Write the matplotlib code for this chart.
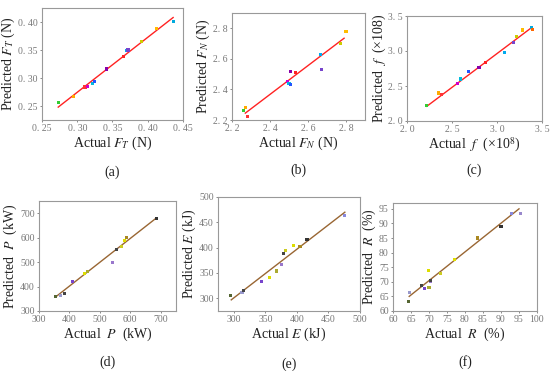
import matplotlib.pyplot as plt

plt.rcParams['font.family'] = 'Liberation Serif'
plt.rcParams['mathtext.fontset'] = 'stix'

# (a) tangential force
ft_act = [0.273, 0.295, 0.311, 0.315, 0.322, 0.325, 0.341, 0.366, 0.370, 0.372, 0.391, 0.412, 0.436]
ft_pred = [0.256, 0.267, 0.284, 0.285, 0.290, 0.294, 0.316, 0.339, 0.349, 0.350, 0.365, 0.389, 0.401]
ft_line = [(0.273, 0.436), (0.248, 0.408)]

# (b) normal force
fn_act = [2.26, 2.27, 2.28, 2.49, 2.50, 2.51, 2.51, 2.535, 2.665, 2.67, 2.77, 2.80]
fn_pred = [2.26, 2.28, 2.22, 2.45, 2.44, 2.43, 2.52, 2.51, 2.63, 2.53, 2.70, 2.78]
fn_line = [(2.27, 2.79), (2.245, 2.735)]

# (c) f
f_act = [2.22, 2.35, 2.38, 2.56, 2.59, 2.68, 2.80, 2.87, 3.08, 3.18, 3.22, 3.28, 3.38, 3.39]
f_pred = [2.22, 2.40, 2.38, 2.53, 2.60, 2.71, 2.76, 2.84, 2.98, 3.12, 3.21, 3.30, 3.33, 3.31]
f_line = [(2.22, 3.38), (2.21, 3.33)]

# (d) power
p_act = [355, 370, 383, 410, 450, 460, 540, 555, 570, 580, 588, 685]
p_pred = [360, 363, 373, 422, 455, 462, 498, 552, 565, 590, 600, 680]
p_line = [(355, 685), (358, 680)]

# (e) energy
e_act = [295, 313, 315, 344, 356, 368, 376, 379, 382, 395, 405, 416, 476]
e_pred = [306, 311, 315, 334, 342, 354, 366, 389, 395, 405, 403, 417, 464]
e_line = [(296, 476), (297, 470)]

# (f) R
r_act = [64.2, 64.7, 68.0, 68.8, 69.8, 70.0, 70.3, 70.5, 73.2, 77.0, 83.5, 90.0, 92.8, 95.5]
r_pred = [63.3, 66.3, 68.8, 67.7, 74.0, 67.9, 70.0, 70.4, 73.0, 77.5, 85.0, 89.0, 93.5, 93.5]
r_line = [(64.5, 95), (65, 95)]

top_colors = ['#33cc33', '#ffaa00', '#ff3333', '#cc00cc', '#00bbdd', '#2255ff', '#8800aa',
              '#ff2222', '#00aaee', '#7744cc', '#cccc00', '#ffbb00', '#00aadd', '#ff6600']
bot_colors = ['#556633', '#9999cc', '#444444', '#7744cc', '#dddd00', '#aaaa33', '#9977cc',
              '#444444', '#cccc22', '#dddd00', '#aa8822', '#333333', '#8888dd', '#9988cc']

fig = plt.figure(figsize=(5.5, 3.71), dpi=100)
W, H = 550, 371


def make_ax(l, t, r, b):
    return fig.add_axes([l / W, 1 - b / H, (r - l) / W, (b - t) / H])


panels = [
    (make_ax(42, 8, 183, 120), ft_act, ft_pred, ft_line, (0.25, 0.45), (0.225, 0.425),
     [0.25, 0.30, 0.35, 0.40, 0.45], [0.25, 0.30, 0.35, 0.40],
     ['0. 25', '0. 30', '0. 35', '0. 40', '0. 45'], ['0. 25', '0. 30', '0. 35', '0. 40'],
     'Actual $F_T$ (N)', 'Predicted $F_T$ (N)', '(a)', '#ff2222', top_colors),
    (make_ax(232, 13, 365, 120), fn_act, fn_pred, fn_line, (2.2, 2.9), (2.2, 2.9),
     [2.2, 2.4, 2.6, 2.8], [2.2, 2.4, 2.6, 2.8],
     ['2. 2', '2. 4', '2. 6', '2. 8'], ['2. 2', '2. 4', '2. 6', '2. 8'],
     'Actual $F_N$ (N)', 'Predicted $F_N$ (N)', '(b)', '#ff2222', top_colors),
    (make_ax(407, 16, 542, 121), f_act, f_pred, f_line, (2.0, 3.5), (2.0, 3.5),
     [2.0, 2.5, 3.0, 3.5], [2.0, 2.5, 3.0, 3.5],
     ['2. 0', '2. 5', '3. 0', '3. 5'], ['2. 0', '2. 5', '3. 0', '3. 5'],
     'Actual  $f$  (×10$^8$)', 'Predicted  $f$  (×108)', '(c)', '#ff2222', top_colors),
    (make_ax(39, 201, 176, 311), p_act, p_pred, p_line, (300, 750), (300, 750),
     [300, 400, 500, 600, 700], [300, 400, 500, 600, 700], None, None,
     'Actual  $P$  (kW)', 'Predicted  $P$  (kW)', '(d)', '#996633', bot_colors),
    (make_ax(218, 197, 360, 311), e_act, e_pred, e_line, (275, 500), (275, 500),
     [300, 350, 400, 450, 500], [300, 350, 400, 450, 500], None, None,
     'Actual $E$ (kJ)', 'Predicted $E$ (kJ)', '(e)', '#996633', bot_colors),
    (make_ax(393, 203, 537, 311), r_act, r_pred, r_line, (60, 100), (60, 97),
     list(range(60, 101, 5)), list(range(60, 96, 5)), None, None,
     'Actual  $R$  (%)', 'Predicted  $R$  (%)', '(f)', '#996633', bot_colors),
]

for (ax, xa, ya, line, xl, yl, xt, yt, xtl, ytl, xlab, ylab, cap, lc, cols) in panels:
    ax.plot(line[0], line[1], color=lc, lw=1.0, zorder=2)
    ax.scatter(xa, ya, s=5, c=cols[:len(xa)], marker='s', zorder=3, linewidths=0)
    ax.set_xlim(*xl)
    ax.set_ylim(*yl)
    ax.set_xticks(xt)
    ax.set_yticks(yt)
    if xtl:
        ax.set_xticklabels(xtl)
        ax.set_yticklabels(ytl)
    ax.tick_params(labelsize=7, colors='#777777', length=1.5, width=0.6, pad=1.5)
    for s in ax.spines.values():
        s.set_color('#999999')
        s.set_linewidth(0.8)
    ax.set_xlabel(xlab, fontsize=10, color='#222222', labelpad=1)
    ax.set_ylabel(ylab, fontsize=10, color='#222222', labelpad=0.5)
    ax.text(0.5, -0.47, cap, transform=ax.transAxes, ha='center', va='center',
            fontsize=10, color='#222222')

fig.savefig('out.png', dpi=100)
